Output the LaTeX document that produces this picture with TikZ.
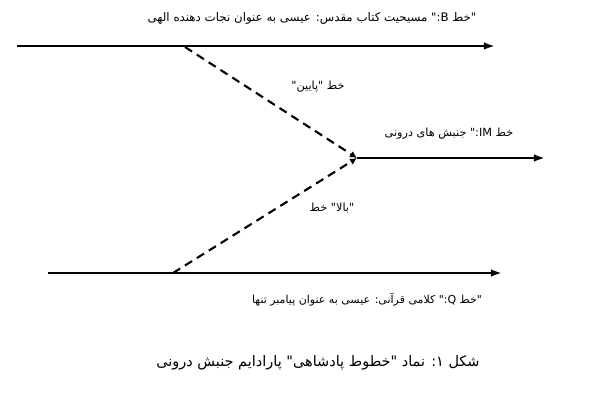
\documentclass[tikz,border=0pt]{standalone}
\usepackage{fontspec}
\newfontfamily\arabicfont[Script=Arabic]{DejaVu Sans}
\TeXXeTstate=1
\usetikzlibrary{arrows.meta}
\newcommand\qm{\kern0pt"\kern0pt}
\newcommand\cl{\kern0pt:\kern0pt}

\begin{document}
\begin{tikzpicture}[x=0.025cm, y=-0.025cm,
    main line/.style={line width=1.5pt, -{Latex[length=8pt,width=5.5pt]}},
    branch line/.style={line width=1.5pt, dash pattern=on 6pt off 4pt, -{Latex[length=5pt,width=5pt]}}]
        \tikzstyle{every node}=[font=\arabicfont\fontsize{8}{10}\selectfont, inner sep=0pt]
        \useasboundingbox (0,0) rectangle (600,400);

          \coordinate (bstart) at (17,46);
          \coordinate (bend) at (495,46);
          \coordinate (bfork) at (185,47);
          \coordinate (junc) at (357,158);
          \coordinate (imend) at (545,158);
          \coordinate (qstart) at (48,273);
          \coordinate (qend) at (502,273);
          \coordinate (qfork) at (173,273);

          \node[font=\arabicfont\fontsize{8.4}{10}\selectfont] (blabel) at (312,18) {\beginR\qm خط B\cl\qm{} مسیحیت کتاب مقدس\cl{} عیسی به عنوان نجات دهنده الهی\endR};
          \node (downlabel) at (318,87) {\beginR خط \qm پایین\qm\endR};
          \node (imlabel) at (449,134) {\beginR خط IM\cl\qm{} جنبش های درونی\endR};
          \node (uplabel) at (332,208) {\beginR\qm بالا\qm{} خط\endR};
          \node[font=\arabicfont\fontsize{7.8}{10}\selectfont] (qlabel) at (367,300) {\beginR\qm خط Q\cl\qm{} کلامی قرآنی\cl{} عیسی به عنوان پیامبر تنها\endR};
          \node[font=\arabicfont\fontsize{10.3}{12}\selectfont] (caption) at (318,363)
            {\beginR شکل ۱\cl{} نماد \qm خطوط پادشاهی\qm{} پارادایم جنبش درونی\endR};

          \path[main line]
            (bstart) edge (bend)
            (junc) edge (imend)
            (qstart) edge (qend);
          \path[branch line]
            (bfork) edge (junc)
            (qfork) edge (junc);

\end{tikzpicture}
\end{document}
